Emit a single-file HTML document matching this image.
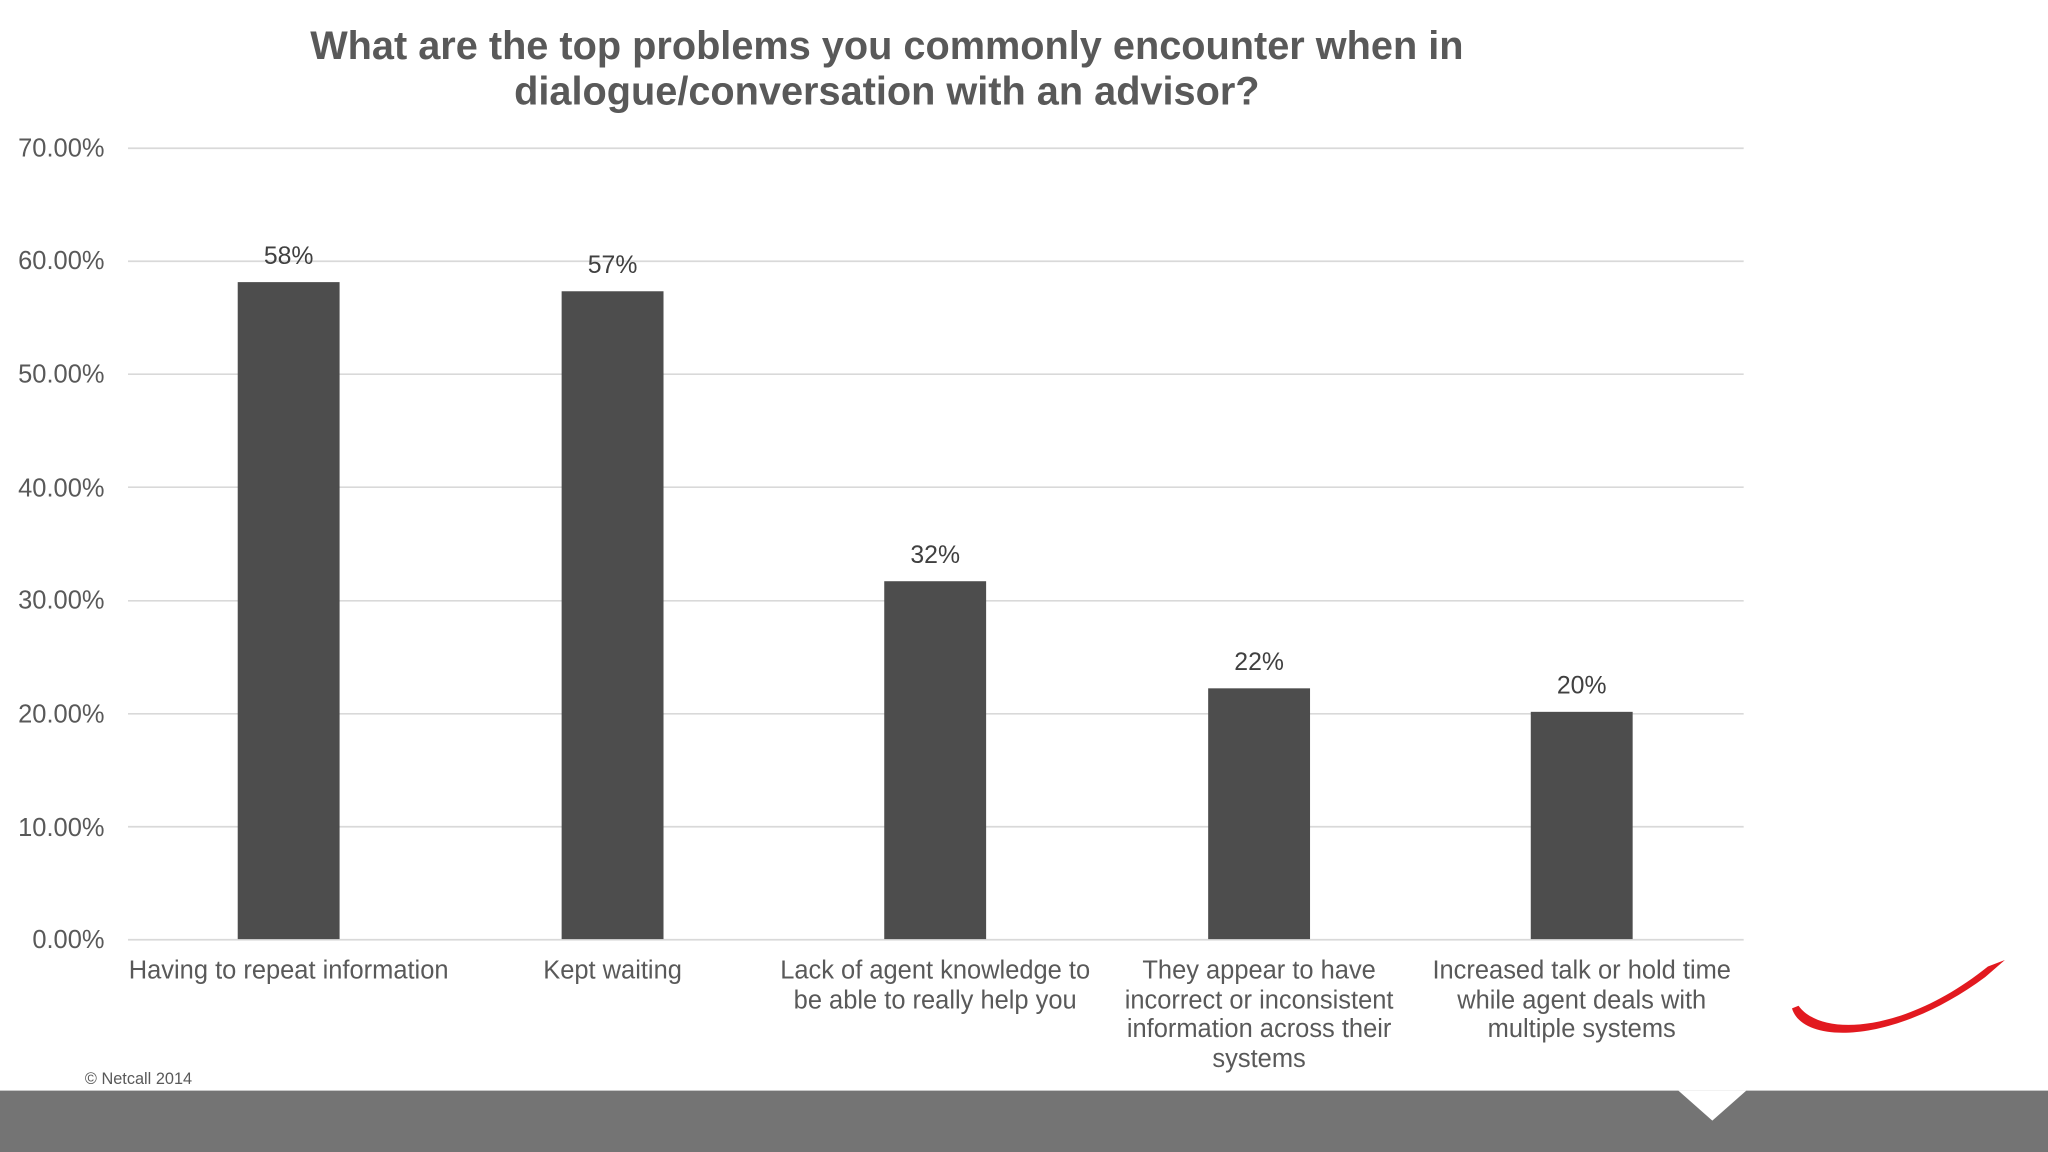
<!DOCTYPE html>
<html><head><meta charset="utf-8"><style>
html,body{margin:0;padding:0;background:#fff;}
svg{display:block;font-family:"Liberation Sans",Arial,sans-serif;}
</style></head><body>
<svg width="2048" height="1152" viewBox="0 0 1568 882" xmlns="http://www.w3.org/2000/svg">
<rect width="1568" height="882" fill="#fff"/>
<g font-weight="bold" font-size="30.4" fill="#595959" text-anchor="middle">
<text x="679" y="45">What are the top problems you commonly encounter when in</text>
<text x="679" y="80">dialogue/conversation with an advisor?</text>
</g>
<g stroke="#d9d9d9" stroke-width="1.3">
<line x1="98" x2="1335" y1="113.5" y2="113.5"/>
<line x1="98" x2="1335" y1="200" y2="200"/>
<line x1="98" x2="1335" y1="286.5" y2="286.5"/>
<line x1="98" x2="1335" y1="373" y2="373"/>
<line x1="98" x2="1335" y1="460" y2="460"/>
<line x1="98" x2="1335" y1="546.5" y2="546.5"/>
<line x1="98" x2="1335" y1="633" y2="633"/>
<line x1="98" x2="1335" y1="719.5" y2="719.5"/>
</g>
<g font-size="19.5" fill="#595959" text-anchor="end">
<text x="80" y="120">70.00%</text>
<text x="80" y="206">60.00%</text>
<text x="80" y="293">50.00%</text>
<text x="80" y="380">40.00%</text>
<text x="80" y="466">30.00%</text>
<text x="80" y="553">20.00%</text>
<text x="80" y="640">10.00%</text>
<text x="80" y="726">0.00%</text>
</g>
<g fill="#4d4d4d">
<rect x="182" y="216" width="78" height="503"/>
<rect x="430" y="223" width="78" height="496"/>
<rect x="677" y="445" width="78" height="274"/>
<rect x="925" y="527" width="78" height="192"/>
<rect x="1172" y="545" width="78" height="174"/>
</g>
<g font-size="19" fill="#404040" text-anchor="middle">
<text x="221" y="202">58%</text>
<text x="469" y="209">57%</text>
<text x="716" y="431">32%</text>
<text x="964" y="513">22%</text>
<text x="1211" y="531">20%</text>
</g>
<g font-size="19.5" fill="#595959" text-anchor="middle">
<text x="221" y="749">Having to repeat information</text>
<text x="469" y="749">Kept waiting</text>
<text x="716" y="749">Lack of agent knowledge to</text>
<text x="716" y="772">be able to really help you</text>
<text x="964" y="749">They appear to have</text>
<text x="964" y="772">incorrect or inconsistent</text>
<text x="964" y="794">information across their</text>
<text x="964" y="817">systems</text>
<text x="1211" y="749">Increased talk or hold time</text>
<text x="1211" y="772">while agent deals with</text>
<text x="1211" y="794">multiple systems</text>
</g>
<text x="65" y="830" font-size="12.5" fill="#595959">© Netcall 2014</text>
<rect x="0" y="835" width="1568" height="47" fill="#747474"/>
<polygon points="1285,835 1337,835 1311,858" fill="#fff"/>
<path d="M1372,772 C1380,800 1450,800 1520,748 L1535,735 L1522,740 C1460,790 1395,795 1377,770 Z" fill="#e2191f"/>
</svg>
</body></html>
